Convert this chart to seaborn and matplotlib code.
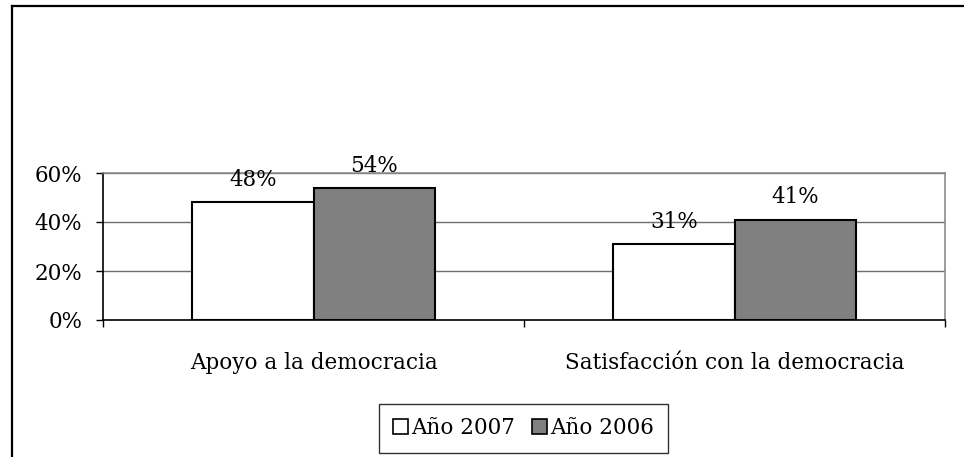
import matplotlib
matplotlib.use("Agg")
import matplotlib.pyplot as plt
from matplotlib.lines import Line2D
from matplotlib.patches import Patch
import seaborn as sns
import pandas as pd

categories = ["Apoyo a la democracia", "Satisfacción con la democracia"]
series_names = ["Año 2007", "Año 2006"]
values_2007 = [48, 31]
values_2006 = [54, 41]
y_ticks = [0, 20, 40, 60]
y_tick_labels = ["0%", "20%", "40%", "60%"]

df = pd.DataFrame({
    "categoria": categories * 2,
    "serie": [series_names[0]] * 2 + [series_names[1]] * 2,
    "valor": values_2007 + values_2006,
})

plt.rcParams["font.family"] = ["DejaVu Serif"]
FS = 15.5

fig = plt.figure(figsize=(9.64, 4.57), dpi=100)
ax = fig.add_axes([103 / 964, 1 - 320 / 457, (945 - 103) / 964, (320 - 173) / 457])

palette = {series_names[0]: "white", series_names[1]: "#808080"}
sns.barplot(data=df, x="categoria", y="valor", hue="serie", order=categories,
            hue_order=series_names, palette=palette, width=0.575, gap=0,
            edgecolor="black", linewidth=1.5, saturation=1, ax=ax, legend=False,
            zorder=3)

ax.set_xlim(-0.5, 1.5)
ax.set_ylim(0, 60)
ax.set_yticks(y_ticks)
ax.set_yticklabels(y_tick_labels, fontsize=FS)
ax.tick_params(axis="y", direction="out", length=5, width=1, color="black", pad=10)
ax.set_xticks([0, 1])
ax.set_xticklabels(categories, fontsize=FS)
ax.tick_params(axis="x", which="major", length=0, pad=23)
ax.set_xticks([-0.5, 0.5, 1.5], minor=True)
ax.tick_params(axis="x", which="minor", direction="out", length=5, width=1, color="black")
ax.set_xlabel("")
ax.set_ylabel("")

for y in y_ticks[1:]:
    ax.axhline(y, color="#6e6e6e", linewidth=1, zorder=1)

ax.spines["left"].set_color("black")
ax.spines["bottom"].set_color("black")
ax.spines["top"].set_color("#8c8c8c")
ax.spines["right"].set_color("#8c8c8c")
for s in ax.spines.values():
    s.set_linewidth(1.2)
ax.set_facecolor("white")

# value labels above each bar
for container in ax.containers:
    ax.bar_label(container, labels=[f"{v:.0f}%" for v in container.datavalues],
                 padding=8, fontsize=FS, zorder=4)

handles = [Patch(facecolor=palette[n], edgecolor="black", linewidth=1.2) for n in series_names]
leg = fig.legend(handles, series_names, loc="upper center", bbox_to_anchor=(523.5 / 964, 1 - 404 / 457),
                 ncol=2, fontsize=FS, frameon=True, fancybox=False, edgecolor="black",
                 handlelength=0.7, handleheight=0.7, handletextpad=0.15, columnspacing=0.8,
                 borderpad=0.62, borderaxespad=0)
leg.get_frame().set_linewidth(1.0)

# outer chart frame
fig.add_artist(Line2D([11.5 / 964, 11.5 / 964], [0, 1 - 5.5 / 457], color="black", linewidth=1.6,
                      transform=fig.transFigure))
fig.add_artist(Line2D([11.5 / 964, 1], [1 - 5.5 / 457, 1 - 5.5 / 457], color="black", linewidth=1.6,
                      transform=fig.transFigure))

fig.savefig("out.png", dpi=100, facecolor="white")
